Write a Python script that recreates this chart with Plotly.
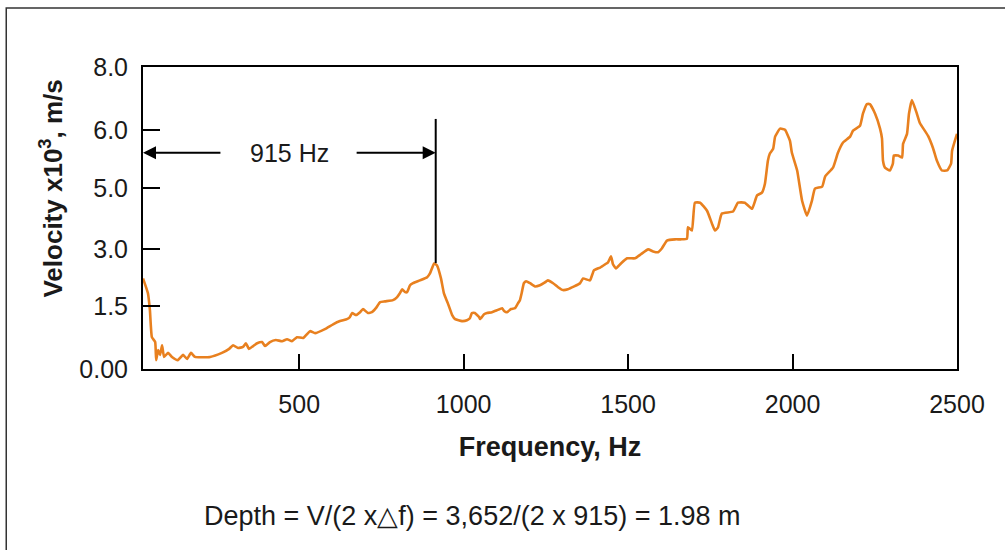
import plotly.graph_objects as go

# Frequency (Hz) and velocity (plot units on the velocity axis)
freq = [25, 40, 46, 52, 62, 65, 71, 77, 83, 89, 101, 113, 131, 147, 159, 171, 183, 229, 265, 287,
        299, 314, 329, 338, 347, 360, 372, 387, 396, 411, 429, 448, 463, 478, 493, 512, 533, 548, 578, 603,
        624, 645, 654, 661, 673, 685, 694, 709, 721, 733, 746, 761, 785, 797, 806, 813, 822, 828, 837, 846,
        867, 889, 898, 910, 919, 931, 940, 952, 965, 974, 995, 1010, 1019, 1025, 1034, 1047, 1050, 1062, 1071, 1086,
        1101, 1117, 1123, 1132, 1144, 1156, 1165, 1171, 1177, 1183, 1190, 1202, 1217, 1232, 1247, 1256, 1272, 1287, 1302, 1317,
        1336, 1354, 1363, 1384, 1396, 1415, 1430, 1439, 1448, 1454, 1463, 1478, 1497, 1521, 1539, 1561, 1576, 1591, 1603, 1618,
        1643, 1661, 1679, 1682, 1694, 1703, 1719, 1740, 1755, 1764, 1773, 1785, 1819, 1834, 1855, 1877, 1892, 1907, 1916, 1925,
        1931, 1941, 1947, 1962, 1977, 1992, 1998, 2014, 2029, 2044, 2059, 2068, 2090, 2099, 2123, 2138, 2153, 2175, 2184, 2205,
        2214, 2226, 2235, 2251, 2266, 2272, 2275, 2281, 2296, 2305, 2308, 2321, 2333, 2336, 2348, 2354, 2363, 2378, 2387, 2412,
        2427, 2439, 2454, 2470, 2482, 2485, 2500]
velocity = [2.25, 1.88, 1.46, 0.79, 0.67, 0.22, 0.47, 0.35, 0.59, 0.30, 0.40, 0.30, 0.22, 0.35, 0.25, 0.40, 0.30, 0.30, 0.40, 0.50,
            0.59, 0.52, 0.55, 0.64, 0.50, 0.57, 0.64, 0.67, 0.57, 0.67, 0.72, 0.69, 0.74, 0.69, 0.79, 0.77, 0.94, 0.89, 0.99, 1.11,
            1.19, 1.24, 1.29, 1.39, 1.34, 1.41, 1.49, 1.39, 1.41, 1.51, 1.66, 1.68, 1.71, 1.78, 1.88, 1.98, 1.91, 1.91, 2.08, 2.13,
            2.20, 2.28, 2.38, 2.62, 2.57, 2.25, 1.88, 1.63, 1.34, 1.24, 1.19, 1.21, 1.26, 1.39, 1.39, 1.29, 1.24, 1.36, 1.39, 1.41,
            1.46, 1.51, 1.44, 1.41, 1.49, 1.51, 1.63, 1.71, 1.91, 2.13, 2.18, 2.13, 2.05, 2.08, 2.15, 2.20, 2.13, 2.03, 1.96, 1.98,
            2.05, 2.13, 2.25, 2.20, 2.45, 2.52, 2.60, 2.65, 2.80, 2.60, 2.50, 2.62, 2.75, 2.75, 2.85, 2.97, 2.92, 2.90, 3.00, 3.19,
            3.22, 3.22, 3.24, 3.52, 3.44, 4.13, 4.13, 3.93, 3.61, 3.44, 3.51, 3.86, 3.91, 4.13, 4.13, 3.98, 4.31, 4.38, 4.60, 5.17,
            5.35, 5.47, 5.77, 5.97, 5.94, 5.67, 5.37, 4.93, 4.18, 3.81, 4.18, 4.48, 4.53, 4.78, 5.00, 5.37, 5.62, 5.77, 5.92, 6.04,
            6.34, 6.58, 6.58, 6.34, 5.97, 5.72, 5.17, 5.00, 4.93, 5.10, 5.30, 5.30, 5.25, 5.59, 5.84, 6.34, 6.68, 6.34, 6.11, 5.79,
            5.49, 5.17, 4.93, 4.93, 5.10, 5.42, 5.84]

x_ticks = [500, 1000, 1500, 2000, 2500]
y_tickvals = [0, 1.56, 2.97, 4.5, 5.94, 7.5]
y_ticktext = ["0.00", "1.5", "3.0", "5.0", "6.0", "8.0"]

x_range = [25, 2500]
y_range = [0, 7.5]

marker_freq = 915
marker_top = 6.21
marker_peak = 2.63
arrow_level = 5.37
label_freq = 469

FONT = "Liberation Sans, Arial, sans-serif"
ORANGE = "#E8801F"
TEXT = "#1a1a1a"

fig = go.Figure()
fig.add_trace(go.Scatter(x=freq, y=velocity, mode="lines",
                         line=dict(color=ORANGE, width=2.6, shape="spline", smoothing=0.4),
                         showlegend=False, hoverinfo="skip"))

# vertical marker line
fig.add_shape(type="line", x0=marker_freq, x1=marker_freq, y0=marker_peak, y1=marker_top,
              xref="x", yref="y", line=dict(color="black", width=2))

# arrows
fig.add_annotation(x=x_range[0], y=arrow_level, ax=265, ay=arrow_level, xref="x", yref="y",
                   axref="x", ayref="y", showarrow=True, arrowhead=2, arrowsize=1.3,
                   arrowwidth=2, arrowcolor="black", text="")
fig.add_annotation(x=marker_freq, y=arrow_level, ax=670, ay=arrow_level, xref="x", yref="y",
                   axref="x", ayref="y", showarrow=True, arrowhead=2, arrowsize=1.3,
                   arrowwidth=2, arrowcolor="black", text="")
fig.add_annotation(x=label_freq, y=arrow_level, xref="x", yref="y", text="915 Hz",
                   showarrow=False, xanchor="center", yanchor="middle",
                   font=dict(family=FONT, size=25, color=TEXT))

# y title
fig.add_annotation(x=-0.112, y=0.597, xref="paper", yref="paper",
                   text="<b>Velocity x10<sup>3</sup>, m/s</b>", textangle=-90,
                   xanchor="center", yanchor="middle",
                   showarrow=False, font=dict(family=FONT, size=26, color=TEXT))

# formula
fig.add_annotation(x=0.405, y=-0.488, xref="paper", yref="paper",
                   text="Depth = V/(2 x\u25b3f) = 3,652/(2 x 915) = 1.98 m",
                   xanchor="center", yanchor="middle",
                   showarrow=False, font=dict(family=FONT, size=27, color=TEXT))

# outer frame
fig.add_shape(type="rect", xref="paper", yref="paper",
              x0=-0.168, x1=1.07, y0=-0.7, y1=1.195,
              line=dict(color="#333333", width=1.5), layer="below")

axis_common = dict(showline=True, linecolor="black", linewidth=2, mirror=True,
                   ticks="inside", tickcolor="black", tickwidth=2,
                   showgrid=False, zeroline=False,
                   tickfont=dict(family=FONT, size=25, color=TEXT))

fig.update_xaxes(range=x_range, tickvals=x_ticks, ticklen=15, ticklabelstandoff=12,
                 title=dict(text="<b>Frequency, Hz</b>", standoff=20,
                            font=dict(family=FONT, size=27, color=TEXT)),
                 **axis_common)
fig.update_yaxes(range=y_range, tickvals=y_tickvals, ticktext=y_ticktext, ticklen=17,
                 ticklabelstandoff=8, **axis_common)

fig.update_layout(width=1005, height=550, plot_bgcolor="white", paper_bgcolor="white",
                  margin=dict(l=143, r=48, t=67, b=181), showlegend=False)

fig.write_html("out.html")
